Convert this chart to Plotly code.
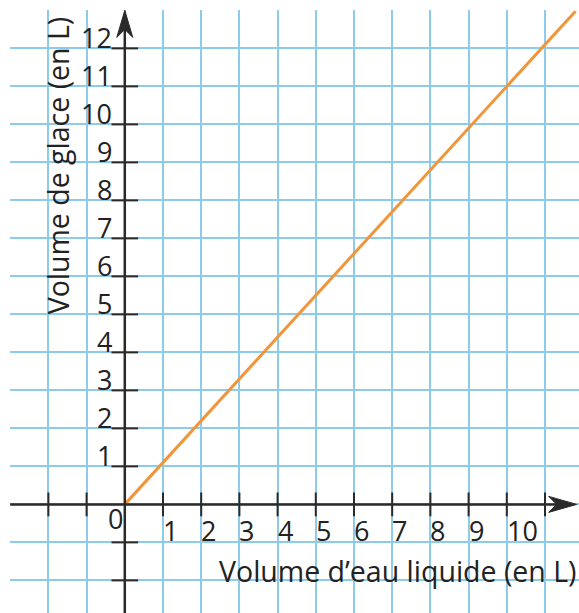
import plotly.graph_objects as go

# Data
water = [0, 11.8]            # Volume d'eau liquide (L)
ice = [0, 12.98]             # Volume de glace (L)
x_tick_vals = [-2, -1, 1, 2, 3, 4, 5, 6, 7, 8, 9, 10, 11]
x_label_vals = [1, 2, 3, 4, 5, 6, 7, 8, 9, 10]
x_tick_labels = [str(v) for v in x_label_vals]
y_tick_vals = [-2, -1, 1, 2, 3, 4, 5, 6, 7, 8, 9, 10, 11, 12]
y_label_vals = [1, 2, 3, 4, 5, 6, 7, 8, 9, 10, 11, 12]
y_tick_labels = [str(v) for v in y_label_vals]

AX = "#2a2a2a"
GRID = "#8ccbea"
ORANGE = "#f0953a"
TXT = "#222222"
FONT = "Open Sans"
NUM_SIZE = 27
TITLE_SIZE = 28.5

fig = go.Figure()

# axis tick marks
fig.add_trace(go.Scatter(x=x_tick_vals, y=[0] * len(x_tick_vals), mode="markers",
                         marker=dict(symbol="line-ns", size=17, line=dict(color=AX, width=2)),
                         hoverinfo="skip", showlegend=False))
fig.add_trace(go.Scatter(x=[0] * len(y_tick_vals), y=y_tick_vals, mode="markers",
                         marker=dict(symbol="line-ew", size=19, line=dict(color=AX, width=2)),
                         hoverinfo="skip", showlegend=False))

# main line
fig.add_trace(go.Scatter(x=water, y=ice, mode="lines",
                         line=dict(color=ORANGE, width=3),
                         hoverinfo="skip", showlegend=False, cliponaxis=False))

shapes = [
    dict(type="line", xref="x", yref="y", x0=-3, y0=0, x1=11.7, y1=0,
         line=dict(color=AX, width=2.5)),
    dict(type="line", xref="x", yref="y", x0=0, y0=-3, x1=0, y1=12.85,
         line=dict(color=AX, width=2.5)),
    dict(type="path", xref="x", yref="y", xsizemode="pixel", ysizemode="pixel",
         xanchor=11.83, yanchor=0, path="M0,0 L-28,-8 L-20,0 L-28,8 Z",
         fillcolor=AX, line=dict(color=AX, width=1)),
    dict(type="path", xref="x", yref="y", xsizemode="pixel", ysizemode="pixel",
         xanchor=0, yanchor=13.0, path="M0,0 L-8,-27 L0,-19 L8,-27 Z",
         fillcolor=AX, line=dict(color=AX, width=1)),
]

annotations = []
for v, t in zip(x_label_vals, x_tick_labels):
    annotations.append(dict(x=v - 0.05, y=-0.7, xref="x", yref="y", text=t,
                            showarrow=False, xanchor="left", yanchor="middle",
                            font=dict(family=FONT, size=NUM_SIZE, color=TXT)))
for v, t in zip(y_label_vals, y_tick_labels):
    annotations.append(dict(x=-0.28, y=v + 0.28, xref="x", yref="y", text=t,
                            showarrow=False, xanchor="right", yanchor="middle",
                            font=dict(family=FONT, size=NUM_SIZE, color=TXT)))
annotations.append(dict(x=-0.24, y=-0.37, xref="x", yref="y", text="0",
                        showarrow=False, xanchor="center", yanchor="middle",
                        font=dict(family=FONT, size=NUM_SIZE, color=TXT)))
annotations.append(dict(x=1.0, y=-1.76, xref="paper", yref="y",
                        text="Volume d’eau liquide (en L)",
                        showarrow=False, xanchor="right", yanchor="middle",
                        font=dict(family=FONT, size=TITLE_SIZE, color=TXT)))
annotations.append(dict(x=-1.75, y=8.92, xref="x", yref="y",
                        text="Volume de glace (en L)", textangle=-90,
                        showarrow=False, xanchor="center", yanchor="middle",
                        font=dict(family=FONT, size=TITLE_SIZE, color=TXT)))

fig.update_layout(
    width=579, height=613,
    margin=dict(l=10, r=0, t=10, b=0),
    paper_bgcolor="white", plot_bgcolor="white",
    shapes=shapes, annotations=annotations,
    xaxis=dict(range=[-3.005, -3.005 + 569 / 38.2], tick0=0, dtick=1,
               showgrid=True, gridcolor=GRID, gridwidth=1.5,
               showticklabels=False, zeroline=False, showline=False, ticks=""),
    yaxis=dict(range=[13.01 - 603 / 38.0, 13.01], tick0=0, dtick=1,
               showgrid=True, gridcolor=GRID, gridwidth=1.5,
               showticklabels=False, zeroline=False, showline=False, ticks=""),
)

fig.write_html("out.html",
               config={"displayModeBar": False},
               post_script="document.body.style.margin='0px';document.body.style.overflow='hidden';")
